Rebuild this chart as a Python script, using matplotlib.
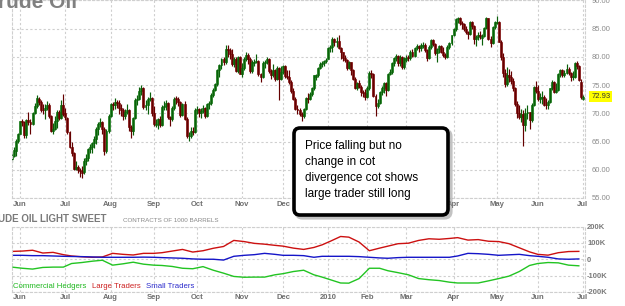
import numpy as np
import pandas as pd
import matplotlib
matplotlib.use("Agg")
import matplotlib.pyplot as plt
import matplotlib.transforms as mtransforms
from matplotlib.patches import FancyBboxPatch

plt.rcParams['font.family'] = ['Liberation Sans', 'DejaVu Sans']

# trading days shown (NYMEX holidays removed)
holidays = ['2009-07-03', '2009-09-07', '2009-11-26', '2009-12-25', '2010-01-01',
            '2010-01-18', '2010-02-15', '2010-04-02', '2010-05-31']
days = pd.bdate_range('2009-05-26', '2010-07-01')
days = days[~days.isin(pd.to_datetime(holidays))]

# daily OHLC, one line per month (May-09 ... Jul-10)
opens = [
    61.9, 62.5, 63.4, 65.1,
    66.4, 68.6, 68.4, 66.2, 68.8, 68.4, 68.1, 70.0, 71.3, 72.6, 72.0, 70.6, 70.5, 71.0, 71.4, 69.5, 66.9, 67.2, 68.7, 70.2, 69.2, 71.5,
    70.0, 69.2, 66.7, 64.0, 62.9, 60.2, 60.4, 59.9, 59.7, 59.6, 61.5, 62.0, 63.6, 64.0, 64.7, 65.4, 67.2, 68.1, 68.4, 67.2, 63.4, 66.9,
    69.5, 71.6, 71.4, 72.0, 71.9, 70.9, 70.6, 69.5, 70.2, 70.5, 67.5, 66.8, 69.2, 72.4, 72.5, 73.9, 74.4, 71.1, 71.4, 72.5, 72.7,
    70.0, 67.9, 68.1, 69.0, 68.0, 71.1, 71.3, 71.9, 69.3, 68.9, 70.9, 72.6, 72.5, 72.0, 69.7, 71.6, 69.0, 65.9, 66.0, 66.8, 66.7,
    70.6, 70.8, 70.0, 70.4, 70.9, 69.6, 71.7, 71.8, 73.3, 74.2, 75.2, 77.6, 78.5, 79.6, 79.1, 81.4, 81.2, 80.5, 78.7, 79.6, 77.5, 79.9,
    77.0, 78.1, 79.6, 80.4, 79.6, 77.4, 78.9, 79.1, 79.3, 76.9, 76.4, 78.9, 79.1, 79.6, 77.5, 76.7, 77.6, 76.0, 78.0, 76.1,
    77.3, 78.4, 76.6, 76.5, 75.5, 73.9, 72.6, 70.7, 70.5, 69.9, 69.5, 70.7, 72.7, 72.6, 73.4, 74.4, 76.5, 76.7, 78.1, 78.8, 78.9, 79.3,
    79.6, 81.5, 81.8, 83.2, 82.7, 82.8, 81.5, 80.8, 79.7, 79.4, 78.0, 79.0, 77.6, 76.1, 74.5, 75.3, 74.7, 73.7, 73.6,
    72.9, 74.4, 77.2, 77.0, 73.1, 71.2, 71.9, 73.8, 74.5, 75.3, 74.1, 77.0, 77.3, 78.9, 79.8, 80.2, 78.9, 80.0, 78.2,
    79.5, 79.9, 79.7, 80.9, 80.2, 81.5, 81.9, 81.5, 81.9, 82.1, 81.2, 79.8, 81.7, 82.9, 82.2, 80.7, 81.3, 81.9, 80.9, 80.3, 80.0, 81.7, 82.4,
    83.8, 84.9, 86.6, 86.8, 85.9, 85.8, 84.9, 84.3, 84.1, 86.1, 85.5, 83.2, 83.5, 83.9, 83.3, 83.7, 85.1, 86.8, 83.2, 82.4, 85.2,
    86.0, 86.2, 82.7, 80.0, 77.1, 75.1, 76.8, 76.4, 75.7, 74.4, 71.6, 70.1, 69.4, 69.9, 68.0, 70.0, 70.2, 68.8, 71.5, 74.6,
    74.0, 72.6, 72.7, 72.9, 71.5, 71.4, 72.0, 74.4, 75.5, 73.8, 74.1, 76.9, 77.7, 76.8, 77.2, 77.8, 77.1, 76.4, 76.5, 78.9, 78.3, 75.6,
    72.6,
]
highs = [
    62.9, 64.0, 65.5, 66.5,
    68.7, 69.0, 68.6, 69.0, 70.3, 69.0, 70.3, 71.8, 73.2, 72.9, 72.3, 71.6, 71.6, 72.1, 71.9, 69.7, 68.2, 69.5, 70.5, 70.5, 72.4, 73.4,
    71.0, 69.4, 66.9, 64.9, 63.2, 61.6, 60.9, 60.3, 60.6, 62.0, 62.8, 63.8, 64.6, 65.0, 65.9, 67.6, 68.5, 69.1, 68.6, 67.5, 67.3, 69.9,
    71.8, 72.0, 72.7, 72.4, 72.3, 71.6, 70.9, 70.8, 71.7, 70.8, 67.9, 69.4, 72.7, 73.2, 74.7, 75.0, 74.6, 72.3, 72.9, 73.8, 72.9,
    71.2, 69.0, 69.2, 69.5, 71.4, 72.1, 72.3, 72.0, 69.6, 71.2, 72.9, 73.0, 72.9, 72.2, 71.9, 72.1, 69.4, 66.7, 67.6, 67.5, 70.9,
    71.3, 70.9, 70.9, 71.4, 71.1, 71.8, 72.1, 73.5, 74.4, 75.4, 77.8, 78.8, 79.8, 80.0, 82.0, 82.0, 81.5, 81.4, 80.0, 79.9, 80.1, 80.2,
    78.9, 80.0, 80.8, 80.7, 79.9, 79.5, 79.6, 80.5, 79.5, 77.2, 79.3, 79.5, 80.0, 79.8, 77.8, 78.8, 77.9, 78.3, 78.2, 78.3,
    78.6, 78.5, 77.6, 77.7, 75.9, 74.5, 72.8, 71.5, 71.0, 70.2, 70.9, 72.9, 73.5, 73.7, 74.7, 76.8, 77.0, 78.2, 79.0, 79.3, 79.5, 79.8,
    81.7, 82.0, 83.5, 83.4, 83.5, 83.9, 81.7, 80.9, 80.4, 79.6, 79.3, 79.1, 77.8, 76.4, 75.6, 75.8, 75.0, 74.2, 74.3,
    74.8, 77.4, 77.6, 77.1, 73.4, 72.6, 74.0, 74.8, 75.6, 75.5, 77.2, 77.8, 79.1, 80.0, 80.5, 80.3, 80.3, 80.1, 79.9,
    80.3, 80.3, 81.2, 81.3, 81.8, 82.2, 82.1, 82.4, 82.6, 82.4, 81.3, 82.0, 83.2, 83.1, 82.4, 81.5, 82.1, 82.0, 81.8, 80.6, 82.0, 82.6, 83.9,
    85.1, 86.9, 87.1, 87.0, 86.3, 86.0, 85.5, 84.6, 86.3, 86.4, 85.6, 83.9, 84.3, 84.5, 84.0, 85.3, 87.0, 86.9, 83.6, 85.4, 86.4,
    87.2, 86.3, 82.9, 80.6, 77.9, 78.2, 77.9, 77.4, 76.3, 74.6, 72.1, 71.4, 70.7, 70.5, 70.9, 71.4, 70.3, 71.8, 74.8, 75.7,
    75.0, 73.5, 74.0, 73.3, 72.7, 72.3, 74.5, 75.8, 75.7, 75.3, 77.1, 77.9, 77.9, 77.7, 78.8, 78.2, 77.3, 77.4, 79.1, 79.3, 78.5, 76.0,
    73.3,
]
lows = [
    61.4, 62.3, 62.4, 64.8,
    66.3, 67.8, 65.6, 65.7, 68.0, 66.4, 67.9, 69.8, 71.0, 71.5, 70.2, 69.9, 69.0, 70.6, 69.2, 66.6, 66.4, 67.0, 67.4, 68.8, 68.9, 69.5,
    68.8, 66.4, 63.8, 62.4, 60.0, 59.9, 59.4, 58.8, 58.6, 59.3, 60.9, 61.5, 62.9, 63.0, 63.8, 64.6, 66.2, 67.5, 66.4, 62.7, 63.0, 66.5,
    69.3, 70.5, 70.8, 71.0, 69.8, 69.6, 68.8, 68.9, 69.9, 66.8, 65.7, 66.2, 68.9, 71.4, 72.3, 73.2, 70.8, 70.6, 69.9, 72.1, 69.6,
    67.8, 67.5, 67.3, 67.6, 67.8, 70.6, 70.5, 68.9, 67.7, 68.7, 70.6, 71.6, 71.3, 69.3, 69.5, 68.8, 65.6, 65.1, 65.6, 66.2, 66.5,
    69.8, 69.3, 69.2, 70.0, 69.1, 69.3, 70.8, 71.5, 72.8, 73.9, 74.9, 76.4, 77.9, 78.6, 78.8, 79.9, 79.6, 78.3, 78.2, 77.3, 77.1, 76.9,
    76.5, 77.6, 79.2, 78.8, 77.2, 77.2, 78.4, 78.9, 76.6, 75.6, 76.2, 78.0, 78.7, 77.2, 76.1, 76.5, 75.7, 75.8, 72.4, 75.9,
    77.0, 76.3, 76.0, 75.2, 73.6, 72.4, 70.5, 69.9, 69.5, 68.6, 69.2, 70.5, 71.9, 72.3, 73.0, 74.2, 75.9, 76.4, 77.8, 78.2, 78.4, 78.9,
    79.6, 80.9, 80.9, 81.9, 81.8, 81.3, 79.6, 79.3, 79.1, 77.6, 77.8, 76.8, 75.8, 74.3, 74.2, 74.4, 73.1, 72.8, 72.4,
    72.7, 74.2, 76.2, 72.9, 69.5, 70.9, 71.6, 73.3, 73.6, 73.1, 73.9, 76.7, 77.0, 78.3, 79.3, 78.3, 78.4, 77.8, 77.9,
    79.0, 79.2, 79.4, 79.9, 80.0, 81.2, 80.8, 81.0, 81.5, 80.9, 79.2, 79.6, 81.4, 81.9, 80.3, 79.0, 80.7, 80.6, 79.9, 79.6, 79.8, 81.4, 82.1,
    83.6, 84.6, 85.9, 85.6, 84.9, 84.5, 84.0, 83.2, 83.9, 85.0, 82.3, 81.9, 82.9, 83.2, 82.1, 83.5, 84.9, 82.9, 81.8, 82.2, 84.9,
    85.8, 82.6, 79.4, 76.5, 74.7, 74.9, 75.5, 75.1, 74.0, 71.2, 69.2, 69.0, 68.4, 64.2, 66.8, 69.0, 67.2, 68.4, 71.2, 73.6,
    72.2, 71.9, 71.7, 71.2, 70.8, 70.8, 71.9, 74.2, 73.6, 73.6, 74.0, 76.5, 76.4, 76.4, 77.0, 76.7, 75.7, 75.9, 76.3, 77.9, 75.7, 72.5,
    72.3,
]
closes = [
    62.5, 63.5, 65.1, 66.3,
    68.6, 68.5, 66.1, 68.8, 68.4, 68.1, 70.0, 71.3, 72.7, 72.0, 70.6, 70.5, 71.0, 71.4, 69.6, 66.9, 67.2, 68.7, 70.2, 69.2, 71.5, 69.9,
    69.3, 66.7, 64.1, 62.9, 60.1, 60.4, 59.9, 59.7, 59.5, 61.5, 62.0, 63.6, 64.0, 64.7, 65.4, 67.2, 68.1, 68.4, 67.2, 63.4, 66.9, 69.5,
    71.6, 71.4, 72.0, 71.9, 70.9, 70.6, 69.5, 70.2, 70.5, 67.5, 66.8, 69.2, 72.4, 72.5, 73.9, 74.4, 71.1, 71.4, 72.5, 72.7, 70.0,
    68.1, 68.1, 69.0, 68.0, 71.1, 71.3, 71.9, 69.3, 68.9, 70.9, 72.5, 72.5, 72.0, 69.7, 71.6, 69.0, 65.9, 66.0, 66.8, 66.7, 70.6,
    70.8, 70.0, 70.4, 70.9, 69.6, 71.7, 71.8, 73.3, 74.2, 75.2, 77.6, 78.5, 79.6, 79.1, 81.4, 81.2, 80.5, 78.7, 79.6, 77.5, 79.9, 77.0,
    78.1, 79.6, 80.4, 79.6, 77.4, 79.1, 79.1, 79.3, 76.9, 76.4, 78.9, 79.1, 79.6, 77.5, 76.7, 77.6, 76.0, 78.0, 76.1, 77.3,
    78.4, 76.6, 76.5, 75.5, 73.9, 72.6, 70.7, 70.5, 69.9, 69.5, 70.7, 72.7, 72.6, 73.4, 74.4, 76.7, 76.7, 78.1, 78.8, 78.9, 79.3, 79.4,
    81.5, 81.8, 83.2, 82.7, 82.8, 81.5, 80.8, 79.7, 79.4, 78.0, 79.0, 77.6, 76.1, 74.5, 75.3, 74.7, 73.7, 73.6, 72.9,
    74.4, 77.2, 77.0, 73.1, 71.2, 71.9, 73.8, 74.5, 75.3, 74.1, 77.0, 77.3, 78.9, 79.8, 80.2, 78.9, 80.0, 78.2, 79.7,
    79.7, 79.7, 80.9, 80.2, 81.5, 81.9, 81.5, 82.1, 82.1, 81.2, 79.8, 81.7, 82.9, 82.2, 80.7, 81.3, 81.9, 80.9, 80.3, 80.0, 81.7, 82.4, 83.8,
    84.9, 86.6, 86.8, 85.9, 85.8, 84.9, 84.3, 84.1, 86.1, 85.5, 83.2, 83.5, 83.9, 83.7, 83.7, 85.1, 86.8, 83.2, 82.4, 85.2, 86.2,
    86.2, 82.7, 80.0, 77.1, 75.1, 76.8, 76.4, 75.7, 74.4, 71.6, 70.1, 69.4, 69.9, 68.0, 70.0, 70.2, 68.8, 71.5, 74.6, 74.0,
    72.6, 72.9, 72.9, 71.5, 71.4, 72.0, 74.4, 75.5, 73.8, 74.1, 76.9, 77.7, 76.8, 77.2, 77.8, 77.1, 76.4, 76.5, 78.9, 78.3, 75.9, 72.8,
    72.93,
]
last_price = 72.93

# weekly COT net positions (thousands of contracts), Tuesdays
cot_dates = pd.date_range('2009-05-26', '2010-06-29', freq='W-TUE')
commercial = [-48, -55, -60, -50, -48, -48, -26, -20, -12, -6, -36, -28, -18, -30, -36, -38, -44, -55, -58, -45,
              -67, -85, -105, -110, -109, -109, -95, -88, -75, -67, -95, -109, -125, -145, -146, -118, -55, -55, -70, -82,
              -95, -118, -125, -130, -140, -145, -145, -145, -132, -118, -103, -75, -38, -26, -20, -22, -36, -40]
large = [48, 50, 55, 38, 42, 28, 20, 15, 12, 14, 36, 30, 26, 36, 36, 40, 50, 60, 44, 52,
         67, 78, 115, 108, 97, 92, 85, 80, 68, 60, 72, 88, 110, 139, 135, 105, 52, 68, 80, 95,
         98, 115, 125, 122, 127, 132, 117, 120, 110, 108, 95, 70, 45, 30, 25, 40, 47, 48]
small = [24, 24, 22, 22, 20, 18, 17, 16, 14, 12, 12, 12, 12, 13, 12, 10, 8, 6, 2, 0,
         0, -5, 18, 24, 28, 36, 30, 24, 24, 22, 12, 18, 18, 18, 18, 16, 12, 8, 6, 10,
         12, 12, 12, 12, 12, 20, 36, 34, 30, 24, 27, 30, 22, 18, 12, 2, 0, 2]

price_ticks = [55, 60, 65, 70, 75, 80, 85, 90]
cot_ticks = [-200, -100, 0, 100, 200]
cot_tick_labels = ['-200K', '-100K', '0', '100K', '200K']

o = np.array(opens); h = np.array(highs); l = np.array(lows); c = np.array(closes)
x = np.arange(len(c))

# month starts for labels / grid
month_idx = [i for i in range(1, len(days)) if days[i].month != days[i - 1].month]
month_lbl = ['2010' if days[i].month == 1 else days[i].strftime('%b') for i in month_idx]
cot_x = days.searchsorted(cot_dates)

W, H = 625, 306
fig = plt.figure(figsize=(W / 100, H / 100), dpi=100)
left, right = 11.5, 585
ax1 = fig.add_axes([left / W, (H - 198) / H, (right - left) / W, 198 / H])
ax2 = fig.add_axes([left / W, (H - 292) / H, (right - left) / W, (292 - 226.5) / H])

grid_kw = dict(color='#cfcfcf', linestyle=(0, (2, 2)), linewidth=0.8)
for ax in (ax1, ax2):
    ax.set_xlim(-0.25, 279)
    ax.grid(True, **grid_kw)
    ax.set_axisbelow(True)
    for s in ax.spines.values():
        s.set_color('#cfcfcf')
        s.set_linestyle((0, (2, 2)))
        s.set_linewidth(0.8)
    ax.set_xticks(month_idx)
    ax.set_xticklabels(month_lbl)
    ax.yaxis.tick_right()
    ax.tick_params(length=0, labelsize=5.5)
    for t in ax.get_xticklabels():
        t.set_fontweight('bold')
        t.set_color('#6e6e6e')

# candles
up = c >= o
edge = np.where(up, '#0a600a', '#640000')
fill = np.where(up, '#16c016', '#c80c0c')
ax1.vlines(x, l, h, colors=edge, linewidth=0.85)
ax1.bar(x, np.maximum(np.abs(c - o), 0.15), bottom=np.minimum(o, c), width=0.95,
        color=fill, edgecolor=edge, linewidth=0.45)
ax1.set_ylim(55, 90.05)
ax1.set_yticks(price_ticks)
ax1.set_yticklabels(['%.2f' % v for v in price_ticks])
ax1.tick_params(axis='y', pad=5, labelcolor='#8c8c8c')
ax1.tick_params(axis='x', pad=2.2)

# last price tag
tr = mtransforms.blended_transform_factory(ax1.transAxes, ax1.transData)
ax1.text(1.011, last_price, '%.2f' % last_price, transform=tr, va='center', ha='left',
         fontsize=5.5, color='#333333', clip_on=False,
         bbox=dict(boxstyle='square,pad=0.25', fc='#ffff00', ec='none'))

# COT panel
ax2.plot(cot_x, large, color='#cc1010', lw=1.0)
ax2.plot(cot_x, small, color='#1515c8', lw=1.0)
ax2.plot(cot_x, commercial, color='#22c422', lw=1.0)
ax2.set_ylim(-200, 200)
ax2.set_yticks(cot_ticks)
ax2.set_yticklabels(cot_tick_labels)
ax2.tick_params(axis='y', pad=1.5, labelcolor='#7a7a7a')
ax2.tick_params(axis='x', pad=1.5)
for t in ax2.get_yticklabels():
    t.set_fontweight('bold')

# overlay in pixel coordinates for titles and the note
ov = fig.add_axes([0, 0, 1, 1])
ov.set_xlim(0, W)
ov.set_ylim(H, 0)
ov.axis('off')
ov.patch.set_alpha(0)

ov.text(77, 7.5, 'Light Crude Oil', ha='right', va='baseline', fontsize=15,
        fontweight='bold', color='#808080')
ov.text(107, 222.5, 'CRUDE OIL LIGHT SWEET', ha='right', va='baseline', fontsize=7,
        fontweight='bold', color='#7a7a7a')
ov.text(123, 222, 'CONTRACTS OF 1000 BARRELS', ha='left', va='baseline', fontsize=4.5,
        color='#888888')
ov.text(13, 287, 'Commercial Hedgers', va='center', fontsize=5.6, color='#1fb81f')
ov.text(92, 287, 'Large Traders', va='center', fontsize=5.6, color='#cc1f1f')
ov.text(146, 287, 'Small Traders', va='center', fontsize=5.6, color='#2b2bcc')

shadow = FancyBboxPatch((296.5, 130.5), 154, 87, boxstyle='round,pad=0,rounding_size=6',
                        fc='none', ec='#9a9a9a', lw=3, alpha=0.6)
ov.add_patch(shadow)
note = FancyBboxPatch((294, 128), 154, 87, boxstyle='round,pad=0,rounding_size=6',
                      fc='white', ec='black', lw=2.6)
ov.add_patch(note)
note_lines = ['Price falling but no', 'change in cot', 'divergence cot shows',
              'large trader still long']
for k, line in enumerate(note_lines):
    ov.text(305, 146 + 16 * k, line, va='center', ha='left', fontsize=8.5, color='black')

fig.savefig('out.png', dpi=100)
